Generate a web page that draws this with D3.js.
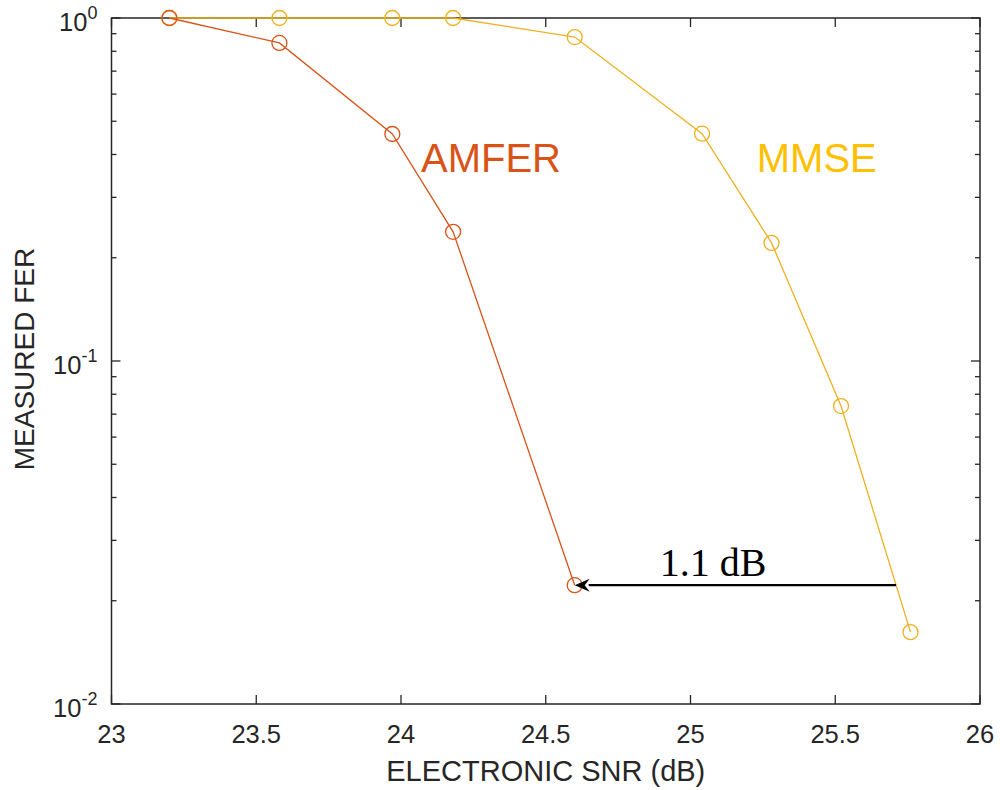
<!DOCTYPE html>
<html>
<head>
<meta charset="utf-8">
<script src="https://cdn.jsdelivr.net/npm/d3@7"></script>
<style>
  body { margin: 0; background: #fff; }
  text { font-family: "Liberation Sans", Arial, sans-serif; }
</style>
</head>
<body>
<svg width="1000" height="790"></svg>
<script>
// Data
var amferSnr = [23.2, 23.58, 23.97, 24.18, 24.6];
var amferFer = [1.0, 0.846, 0.459, 0.238, 0.0222];
var mmseSnr = [23.2, 23.58, 23.97, 24.18, 24.6, 25.04, 25.28, 25.52, 25.76];
var mmseFer = [1.0, 1.0, 1.0, 1.0, 0.88, 0.46, 0.221, 0.0739, 0.0162];
var xTicks = [23, 23.5, 24, 24.5, 25, 25.5, 26];
var yTicks = [0.01, 0.1, 1];
var yExponents = ["-2", "-1", "0"];

var svg = d3.select("svg"),
  margin = { top: 18, right: 20, bottom: 86, left: 111.5 },
  width = 980 - margin.left,
  height = 704 - margin.top;

var g = svg
  .append("g")
  .attr("transform", "translate(" + margin.left + "," + margin.top + ")");

var x = d3.scaleLinear().domain([23, 26]).range([0, width]);
var y = d3.scaleLog().domain([0.01, 1]).range([height, 0]);

var axisColor = "#262626";

// minor ticks on the log axis
var minor = [];
[0.01, 0.1].forEach(function (base) {
  for (var i = 2; i <= 9; i++) minor.push(base * i);
});

// x ticks, bottom and top
xTicks.forEach(function (t) {
  g.append("line").attr("x1", x(t)).attr("x2", x(t))
    .attr("y1", height).attr("y2", height - 9)
    .attr("stroke", axisColor).attr("stroke-width", 1.3);
  g.append("line").attr("x1", x(t)).attr("x2", x(t))
    .attr("y1", 0).attr("y2", 9)
    .attr("stroke", axisColor).attr("stroke-width", 1.3);
  g.append("text")
    .attr("x", x(t)).attr("y", height + 39)
    .attr("text-anchor", "middle")
    .attr("font-size", 25.5).attr("fill", axisColor)
    .text(d3.format("")(t));
});

// y ticks, left and right
yTicks.forEach(function (t, i) {
  g.append("line").attr("x1", 0).attr("x2", 9)
    .attr("y1", y(t)).attr("y2", y(t))
    .attr("stroke", axisColor).attr("stroke-width", 1.3);
  g.append("line").attr("x1", width).attr("x2", width - 9)
    .attr("y1", y(t)).attr("y2", y(t))
    .attr("stroke", axisColor).attr("stroke-width", 1.3);
  var lbl = g.append("text")
    .attr("x", -14).attr("y", y(t) + 13)
    .attr("text-anchor", "end")
    .attr("font-size", 25.5).attr("fill", axisColor);
  lbl.append("tspan").text("10");
  lbl.append("tspan").attr("dy", -12).attr("font-size", 18).text(yExponents[i]);
});

minor.forEach(function (t) {
  g.append("line").attr("x1", 0).attr("x2", 5)
    .attr("y1", y(t)).attr("y2", y(t))
    .attr("stroke", axisColor).attr("stroke-width", 1.3);
  g.append("line").attr("x1", width).attr("x2", width - 5)
    .attr("y1", y(t)).attr("y2", y(t))
    .attr("stroke", axisColor).attr("stroke-width", 1.3);
});

// frame
g.append("rect")
  .attr("width", width).attr("height", height)
  .attr("fill", "none").attr("stroke", axisColor).attr("stroke-width", 1.5);

// axis labels
g.append("text")
  .attr("x", x(24.5)).attr("y", height + 77)
  .attr("text-anchor", "middle").attr("font-size", 29).attr("fill", axisColor)
  .text("ELECTRONIC SNR (dB)");

g.append("text")
  .attr("transform", "translate(" + -78 + "," + (y(0.1) - 2) + ") rotate(-90)")
  .attr("text-anchor", "middle").attr("font-size", 28).attr("fill", axisColor)
  .text("MEASURED FER");

// series
var line = d3.line().x((d) => x(d[0])).y((d) => y(d[1]));

function drawSeries(xs, ys, color) {
  var pts = xs.map((v, i) => [v, ys[i]]);
  g.append("path").datum(pts)
    .attr("d", line).attr("fill", "none")
    .attr("stroke", color).attr("stroke-width", 1.3);
  g.selectAll(null).data(pts).enter().append("circle")
    .attr("cx", (d) => x(d[0])).attr("cy", (d) => y(d[1]))
    .attr("r", 7.5).attr("fill", "none")
    .attr("stroke", color).attr("stroke-width", 1.3);
}

drawSeries(mmseSnr, mmseFer, "#EDB120");
drawSeries(amferSnr, amferFer, "#D95319");

// series labels
var labelFer = 0.356;
g.append("text").attr("x", x(24.069)).attr("y", y(labelFer))
  .attr("font-size", 40).attr("fill", "#D95319").text("AMFER");
g.append("text").attr("x", x(25.229)).attr("y", y(labelFer))
  .attr("font-size", 40).attr("fill", "#FFC000").text("MMSE");

// arrow annotation (1.1 dB gap between the two curves)
var arrowY = 0.0222;
g.append("line")
  .attr("x1", x(25.71)).attr("x2", x(24.6) + 14)
  .attr("y1", y(arrowY)).attr("y2", y(arrowY))
  .attr("stroke", "#000").attr("stroke-width", 2.2);

g.append("path")
  .attr("d", "M" + x(24.6) + "," + y(arrowY) + " l15,-6.5 l-5,6.5 l5,6.5 Z")
  .attr("fill", "#000");

g.append("text")
  .attr("x", x(25.078)).attr("y", y(arrowY) - 9)
  .attr("text-anchor", "middle")
  .style("font-family", "'Liberation Serif', 'Times New Roman', serif")
  .attr("font-size", 40).attr("fill", "#000")
  .text("1.1 dB");
</script>
</body>
</html>
